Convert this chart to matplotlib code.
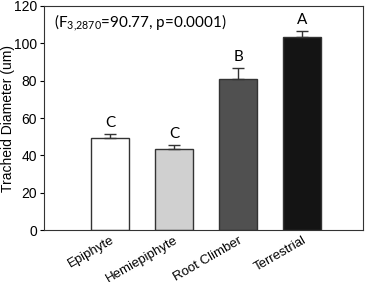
import numpy as np
import matplotlib
matplotlib.use('Agg')
import matplotlib.pyplot as plt

plt.rcParams['font.family'] = ['Liberation Sans', 'DejaVu Sans']
plt.rcParams['mathtext.fontset'] = 'custom'
plt.rcParams['mathtext.rm'] = 'Lato'
plt.rcParams['mathtext.it'] = 'Lato:italic'

categories = ['Epiphyte', 'Hemiepiphyte', 'Root Climber', 'Terrestrial']
means = [49.5, 43.5, 81, 103.5]
errors = [2, 2, 6, 3]
letters = ['C', 'C', 'B', 'A']
colors = ['#ffffff', '#d0d0d0', '#505050', '#141414']

fig = plt.figure(figsize=(3.67, 2.82), dpi=100)
ax = fig.add_axes([0.12, 0.184, 0.869, 0.795])

x = np.arange(len(categories))
low = np.zeros(len(errors))
ax.bar(x, means, width=0.6, color=colors, edgecolor='#333333', linewidth=1,
       yerr=[low, errors], capsize=4, error_kw=dict(ecolor='#333333', elinewidth=1, capthick=1))

for xi, m, e, l in zip(x, means, errors, letters):
    ax.text(xi, m + e + 2, l, ha='center', va='bottom', fontsize=11, family=['Lato', 'DejaVu Sans'])

ax.text(0.03, 0.925, r'(F$_\mathrm{3{,}2870}$=90.77, p=0.0001)', transform=ax.transAxes,
        ha='left', va='center', fontsize=11, family=['Lato', 'DejaVu Sans'])

ax.set_xlim(-1.03, 3.95)
ax.set_ylim(0, 120)
ax.set_yticks(range(0, 121, 20))
ax.set_xticks(x)
ax.set_xticklabels(categories, rotation=30, ha='right', rotation_mode='anchor', fontsize=9.5)
ax.tick_params(axis='x', length=0, pad=3)
ax.tick_params(axis='y', labelsize=10, direction='out', length=3, pad=2)
ax.set_ylabel('Tracheid Diameter (um)', fontsize=10)
ax.yaxis.set_label_coords(-0.092, 0.5)
for s in ax.spines.values():
    s.set_color('#333333')

fig.savefig('out.png', dpi=100)
